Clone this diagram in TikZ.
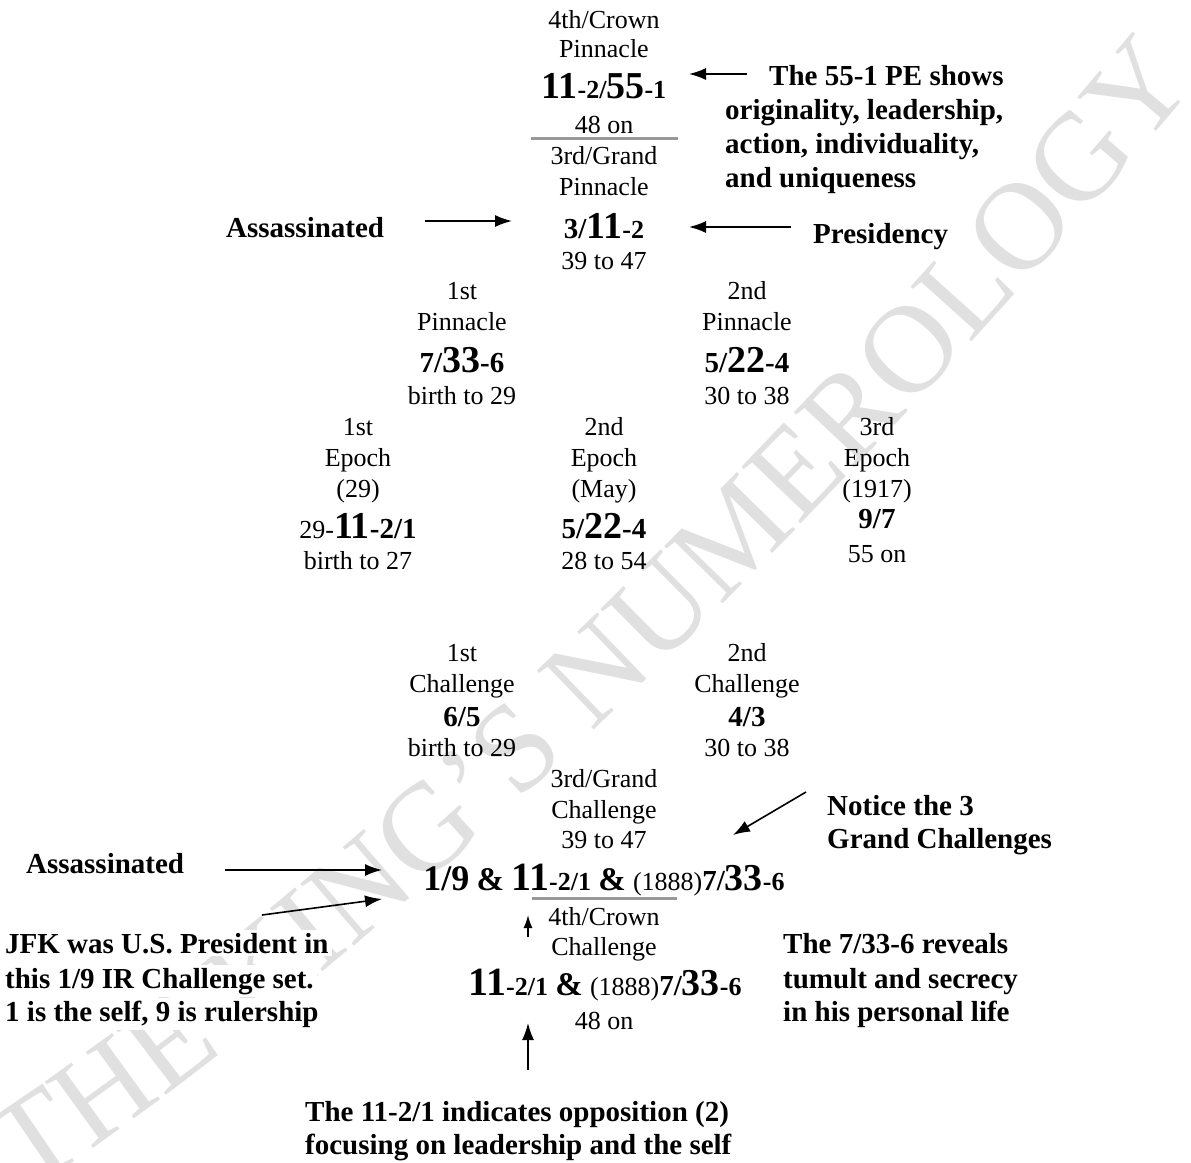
\documentclass[tikz,border=0pt]{standalone}
\usepackage{fontspec}
\setmainfont{Liberation Serif}
\usetikzlibrary{arrows.meta,decorations.text}

\newcommand\Nrm{\fontsize{26}{30}\selectfont}
\newcommand\Ann{\bfseries\fontsize{29}{34.5}\selectfont}
\newcommand\Bg[1]{{\bfseries\fontsize{38}{40}\selectfont #1}}
\newcommand\Bgg[1]{{\bfseries\fontsize{40}{42}\selectfont #1}}
\newcommand\Md[1]{{\bfseries\fontsize{29}{34}\selectfont #1}}
\newcommand\Sm[1]{{\bfseries\fontsize{26}{30}\selectfont #1}}
\newcommand\Lg[1]{{\bfseries\fontsize{36}{38}\selectfont #1}}
\newcommand\Amp{{\bfseries\fontsize{33}{36}\selectfont\&}}
\newcommand\Pl[1]{{\mdseries\fontsize{26}{30}\selectfont #1}}
\newcommand\WMfont{\fontsize{125}{125}\selectfont}
\newcommand\Bdf{\bfseries\fontsize{29}{34}\selectfont}

\tikzset{
  lbl/.style={anchor=base, inner sep=0pt, font=\Nrm},
  ann/.style={anchor=base west, inner sep=0pt, font=\Ann},
  annw/.style={anchor=base west, inner sep=3pt, font=\Ann, fill=white},
  arr/.style={-{Latex[length=17pt,width=12pt]}, line width=1.6pt},
  sarr/.style={-{Latex[length=13pt,width=9pt]}, line width=1.6pt},
  sepline/.style={line width=3pt, draw=black!40},
}

\begin{document}
\begin{tikzpicture}[x=1pt,y=-1pt]
\useasboundingbox[fill=white] (0,0) rectangle (1191,1162);
\begin{scope}
\clip (0,0) rectangle (1191,1162);
% watermark
\path[decorate, decoration={text along path, text align=left, text align/left indent=10pt,
  text color=black!12, text={|\WMfont|THE KING'S NUMEROLOGY}}]
  (19,1199) .. controls (400,950) and (850,500) .. (1204,74);
\end{scope}

% ---- 4th/Crown Pinnacle
\node[lbl] (cp1) at (604,28) {4th/Crown};
\node[lbl] (cp2) at (604,57) {Pinnacle};
\node[lbl] (cpn) at (604,98) {\Bg{11}\Sm{-2/}\Bg{55}\Sm{-1}};
\node[lbl] (cp3) at (604,133) {48 on};
\coordinate (sa1) at (531,138); \coordinate (sa2) at (678,138);
\draw[sepline] (sa1) -- (sa2);
% ---- 3rd/Grand Pinnacle
\node[lbl] (gp1) at (604,164) {3rd/Grand};
\node[lbl] (gp2) at (604,195) {Pinnacle};
\node[lbl] (gpn) at (604,238) {\Md{3/}\Bg{11}\Sm{-2}};
\node[lbl] (gp3) at (604,269) {39 to 47};
% ---- 1st / 2nd Pinnacle
\node[lbl] (p1a) at (462,299) {1st};
\node[lbl] (p1b) at (462,330) {Pinnacle};
\node[lbl] (p1n) at (462,372) {\Md{7/}\Bg{33}\Md{-6}};
\node[lbl] (p1c) at (462,404) {birth to 29};
\node[lbl] (p2a) at (747,299) {2nd};
\node[lbl] (p2b) at (747,330) {Pinnacle};
\node[lbl] (p2n) at (747,372) {\Md{5/}\Bg{22}\Md{-4}};
\node[lbl] (p2c) at (747,404) {30 to 38};
% ---- Epochs
\node[lbl] (e1a) at (358,435) {1st};
\node[lbl] (e1b) at (358,466) {Epoch};
\node[lbl] (e1c) at (358,497) {(29)};
\node[lbl] (e1n) at (358,538) {29-\Bg{11}\Md{-2/1}};
\node[lbl] (e1d) at (358,569) {birth to 27};
\node[lbl] (e2a) at (604,435) {2nd};
\node[lbl] (e2b) at (604,466) {Epoch};
\node[lbl] (e2c) at (604,497) {(May)};
\node[lbl] (e2n) at (604,538) {\Md{5/}\Bg{22}\Md{-4}};
\node[lbl] (e2d) at (604,569) {28 to 54};
\node[lbl] (e3a) at (877,435) {3rd};
\node[lbl] (e3b) at (877,466) {Epoch};
\node[lbl] (e3c) at (877,497) {(1917)};
\node[lbl] (e3n) at (877,528) {\Md{9/7}};
\node[lbl] (e3d) at (877,562) {55 on};
% ---- Challenges
\node[lbl] (c1a) at (462,661) {1st};
\node[lbl] (c1b) at (462,692) {Challenge};
\node[lbl] (c1n) at (462,726) {\Md{6/5}};
\node[lbl] (c1c) at (462,756) {birth to 29};
\node[lbl] (c2a) at (747,661) {2nd};
\node[lbl] (c2b) at (747,692) {Challenge};
\node[lbl] (c2n) at (747,726) {\Md{4/3}};
\node[lbl] (c2c) at (747,756) {30 to 38};
\node[lbl] (g3a) at (604,787) {3rd/Grand};
\node[lbl] (g3b) at (604,818) {Challenge};
\node[lbl] (g3c) at (604,848) {39 to 47};
\node[lbl, font=\Bdf] (gcn) at (604,890)
  {\Lg{1/9} \Amp{} \Bgg{11}\Sm{-2/1} \Amp{} \Pl{(1888)}7/\Bg{33}\Sm{-6}};
\coordinate (sb1) at (532,898); \coordinate (sb2) at (677,898);
\draw[sepline] (sb1) -- (sb2);
\node[lbl] (cc1) at (604,925) {4th/Crown};
\node[lbl] (cc2) at (604,955) {Challenge};
\node[lbl, font=\Bdf] (ccn) at (605,995)
  {\Bgg{11}\Sm{-2/1} \Amp{} \Pl{(1888)}7/\Bg{33}\Sm{-6}};
\node[lbl] (cc3) at (604,1029) {48 on};

% ---- annotations
\node[ann] (a1a) at (769,85) {The 55-1 PE shows};
\node[ann] (a1b) at (725,119) {originality, leadership,};
\node[ann] (a1c) at (725,153) {action, individuality,};
\node[ann] (a1d) at (725,187) {and uniqueness};
\node[ann] (pres) at (813,243) {Presidency};
\node[ann] (ass1) at (226,237) {Assassinated};
\node[ann] (nt1) at (827,815) {Notice the 3};
\node[ann] (nt2) at (827,848) {Grand Challenges};
\node[ann] (ass2) at (26,873) {Assassinated};
\node[annw] (jf1) at (2,953) {JFK was U.S. President in};
\node[annw] (jf2) at (2,988) {this 1/9 IR Challenge set.};
\node[annw] (jf3) at (2,1021) {1 is the self, 9 is rulership};
\node[ann] (rv1) at (783,953) {The 7/33-6 reveals};
\node[ann] (rv2) at (783,988) {tumult and secrecy};
\node[ann] (rv3) at (783,1021) {in his personal life};
\node[ann] (op1) at (305,1121) {The 11-2/1 indicates opposition (2)};
\node[ann] (op2) at (305,1154) {focusing on leadership and the self};

% ---- arrows
\coordinate (t1) at (747,74);  \coordinate (h1) at (689,74);
\coordinate (t2) at (791,227); \coordinate (h2) at (689,227);
\coordinate (t3) at (425,221); \coordinate (h3) at (512,221);
\coordinate (t4) at (806,792); \coordinate (h4) at (733,835);
\coordinate (t5) at (225,870); \coordinate (h5) at (382,870);
\coordinate (t6) at (262,915); \coordinate (h6) at (382,899);
\coordinate (t7) at (528,937); \coordinate (h7) at (528,915);
\coordinate (t8) at (528,1070); \coordinate (h8) at (528,1023);
\draw[arr] (t1) -- (h1);
\draw[arr] (t2) -- (h2);
\draw[arr] (t3) -- (h3);
\draw[arr] (t4) -- (h4);
\draw[arr] (t5) -- (h5);
\draw[arr] (t6) -- (h6);
\draw[sarr] (t7) -- (h7);
\draw[arr] (t8) -- (h8);
\end{tikzpicture}
\end{document}
